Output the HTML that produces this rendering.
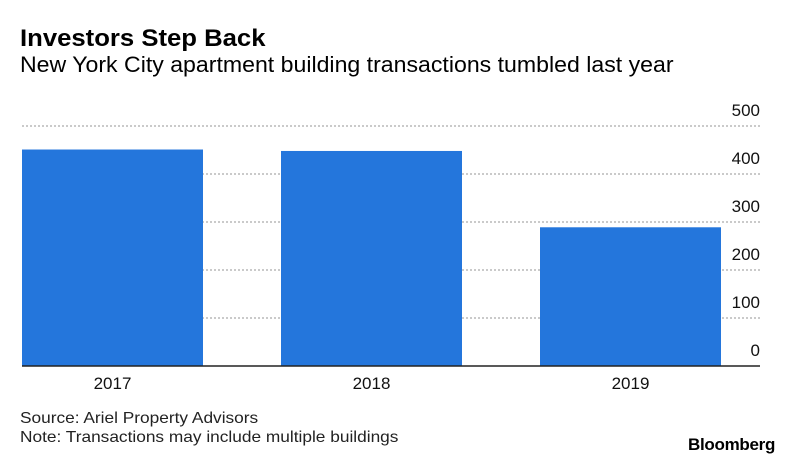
<!DOCTYPE html>
<html><head><meta charset="utf-8"><style>
body{margin:0;background:#fff;font-family:"Liberation Sans",sans-serif;}
#wrap{position:relative;width:792px;height:462px;overflow:hidden;}
.t{position:absolute;white-space:nowrap;color:#000;}
</style></head><body>
<div id="wrap">
<div class="t" style="left:20px;top:25px;font-size:24px;font-weight:bold;transform:scaleX(1.07);transform-origin:left;">Investors Step Back</div>
<div class="t" style="left:20px;top:52px;font-size:22px;transform:scaleX(1.05);transform-origin:left;">New York City apartment building transactions tumbled last year</div>
<svg id="chart" width="792" height="462" style="position:absolute;left:0;top:0"></svg>
<div class="t" style="left:20px;top:410px;font-size:16px;color:#222;transform:scaleX(1.08);transform-origin:left;">Source: Ariel Property Advisors</div>
<div class="t" style="left:20px;top:429px;font-size:16px;color:#222;transform:scaleX(1.08);transform-origin:left;">Note: Transactions may include multiple buildings</div>
<div class="t" style="left:688px;top:435px;font-size:17px;font-weight:bold;letter-spacing:-0.3px;">Bloomberg</div>
</div>
<script>
const categories=["2017","2018","2019"];
const values=[451,448,289];
const tickValues=[0,100,200,300,400,500];
const tickLabels=["0","100","200","300","400","500"];
const svg=document.getElementById('chart');
const NS='http://www.w3.org/2000/svg';
const y0=366,pxPer=0.48,left=22,right=760,bandStart=22,bandStep=259,barW=181;
function y(v){return y0-v*pxPer;}
function x(i){return bandStart+i*bandStep;}
function mk(tag,attrs){const e=document.createElementNS(NS,tag);for(const k in attrs)e.setAttribute(k,attrs[k]);svg.appendChild(e);return e;}
tickValues.forEach((v,i)=>{
 if(v>0){const g=mk('line',{x1:left,x2:right,y1:y(v),y2:y(v),stroke:'#aaa','stroke-width':1.2,'stroke-dasharray':'2,2'});
 
 }
 const t=mk('text',{x:right,y:y(v)-10,'text-anchor':'end','font-size':17,'font-family':'Liberation Sans, sans-serif',fill:'#111'});
 t.textContent=tickLabels[i];
 
 
});
categories.forEach((c,i)=>{
 const b=mk('rect',{x:x(i),y:y(values[i]),width:barW,height:y0-y(values[i]),fill:'#2476dc'});
 
 
 const t=mk('text',{x:x(i)+barW/2,y:389,'text-anchor':'middle','font-size':17,'font-family':'Liberation Sans, sans-serif',fill:'#111'});
 t.textContent=c;
 
 
});
const ax=mk('line',{x1:left,x2:right,y1:y0,y2:y0,stroke:'#222','stroke-width':1.5});


</script>
</body></html>
